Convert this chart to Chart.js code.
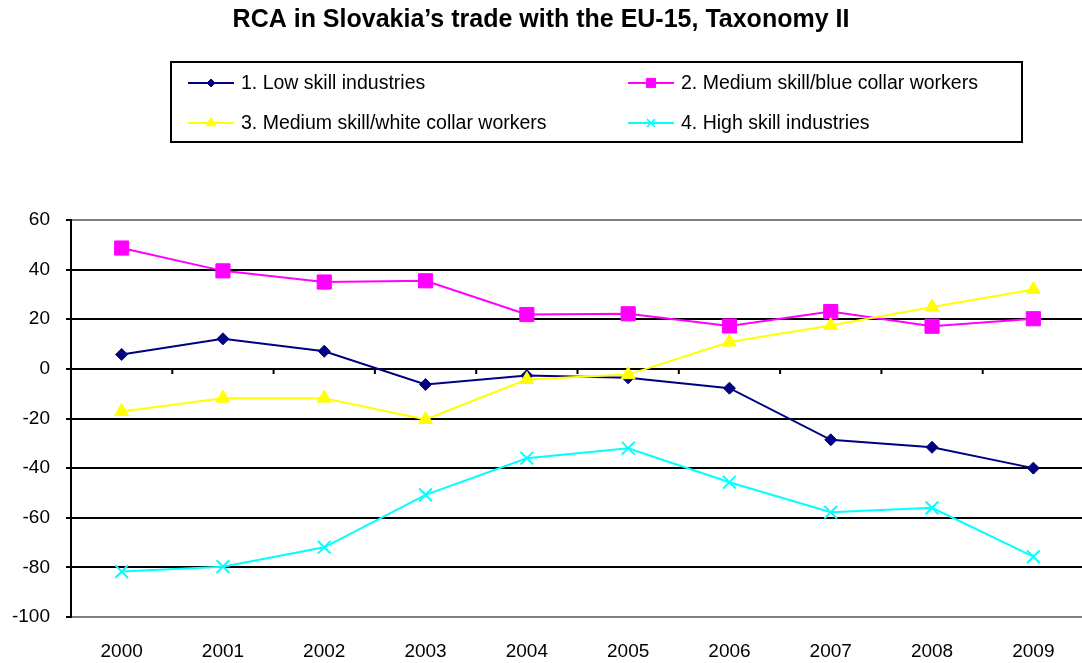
<!DOCTYPE html>
<html>
<head>
<meta charset="utf-8">
<script src="https://cdn.jsdelivr.net/npm/chart.js@4.4.1/dist/chart.umd.min.js"></script>
<style>
  html, body { margin: 0; padding: 0; background: #ffffff; overflow: hidden; }
  .chart-container { position: relative; width: 1082px; height: 663px; }
</style>
</head>
<body>
<div class="chart-container">
  <canvas id="rca-chart"></canvas>
</div>
<script>
// Years on the category axis
const years = ['2000', '2001', '2002', '2003', '2004', '2005', '2006', '2007', '2008', '2009'];

// RCA values
const lowSkill = [5.8, 12.1, 7.1, -6.3, -2.7, -3.6, -7.8, -28.6, -31.6, -40.0];
const mediumBlueCollar = [48.7, 39.5, 35.0, 35.5, 21.9, 22.2, 17.3, 23.1, 17.2, 20.2];
const mediumWhiteCollar = [-17.2, -11.8, -11.8, -20.4, -4.3, -2.3, 10.8, 17.5, 24.9, 32.0];
const highSkill = [-81.7, -79.7, -71.9, -50.8, -36.0, -32.0, -45.7, -57.8, -56.0, -75.7];

const seriesNames = [
  '1. Low skill industries',
  '2. Medium skill/blue collar workers',
  '3. Medium skill/white collar workers',
  '4. High skill industries'
];

const FONT = '"Liberation Sans", Arial, sans-serif';

function series(label, data, color, style, radius, order) {
  return {
    label: label,
    data: data,
    borderColor: color,
    backgroundColor: color,
    borderWidth: 2,
    tension: 0,
    pointStyle: style,
    pointRadius: radius,
    pointHoverRadius: radius,
    pointBorderWidth: style === 'crossRot' ? 2 : 1,
    pointBackgroundColor: color,
    pointBorderColor: color,
    order: order
  };
}

// The plot area runs slightly past the right edge of the page, as in the original
const stretchPlotArea = {
  id: 'stretchPlotArea',
  afterLayout(chart) {
    const xScale = chart.scales.x;
    chart.chartArea.right = chart.width + 2;
    chart.chartArea.width = chart.chartArea.right - chart.chartArea.left;
    xScale.right = chart.chartArea.right;
    xScale.width = xScale.right - xScale.left;
    xScale.configure();
  }
};

// Boxed legend in two columns, drawn above the plot area
const boxedLegend = {
  id: 'boxedLegend',
  afterDraw(chart) {
    const ctx = chart.ctx;
    ctx.save();
    ctx.strokeStyle = '#000000';
    ctx.lineWidth = 2;
    ctx.strokeRect(171, 62, 851, 80);

    const legendRadius = { rectRot: 4, rect: 6.5, triangle: 5.5, crossRot: 5.5 };
    chart.data.datasets.forEach((ds, i) => {
      const col = i % 2;
      const row = Math.floor(i / 2);
      const x0 = col ? 628 : 188;
      const y = row ? 123 : 83;

      ctx.strokeStyle = ds.borderColor;
      ctx.lineWidth = 2;
      ctx.beginPath();
      ctx.moveTo(x0, y);
      ctx.lineTo(x0 + 46, y);
      ctx.stroke();

      ctx.fillStyle = ds.backgroundColor;
      ctx.strokeStyle = ds.borderColor;
      ctx.lineWidth = ds.pointStyle === 'crossRot' ? 1.5 : 1;
      Chart.helpers.drawPoint(ctx, {
        pointStyle: ds.pointStyle,
        rotation: 0,
        radius: legendRadius[ds.pointStyle],
        borderWidth: ctx.lineWidth
      }, x0 + 23, y);

      ctx.fillStyle = '#000000';
      ctx.font = '19.5px ' + FONT;
      ctx.textBaseline = 'middle';
      ctx.textAlign = 'left';
      ctx.fillText(ds.label, x0 + 53, y + 1);
    });
    ctx.restore();
  }
};

// Category tick marks hanging below the zero line
const zeroLineTicks = {
  id: 'zeroLineTicks',
  beforeDatasetsDraw(chart) {
    const xScale = chart.scales.x;
    const yScale = chart.scales.y;
    const y0 = yScale.getPixelForValue(0);
    const ctx = chart.ctx;
    ctx.save();
    ctx.strokeStyle = '#000000';
    ctx.lineWidth = 2;
    ctx.beginPath();
    for (let i = 1; i < years.length; i++) {
      const x = (xScale.getPixelForValue(i - 1) + xScale.getPixelForValue(i)) / 2;
      ctx.moveTo(x, y0);
      ctx.lineTo(x, y0 + 5);
    }
    ctx.stroke();
    ctx.restore();
  }
};

const ctx = document.getElementById('rca-chart').getContext('2d');

new Chart(ctx, {
  type: 'line',
  data: {
    labels: years,
    datasets: [
      series(seriesNames[0], lowSkill, '#000080', 'rectRot', 6, 3),
      series(seriesNames[1], mediumBlueCollar, '#ff00ff', 'rect', 10, 2),
      series(seriesNames[2], mediumWhiteCollar, '#ffff00', 'triangle', 8, 1),
      series(seriesNames[3], highSkill, '#00ffff', 'crossRot', 9, 0)
    ]
  },
  options: {
    responsive: true,
    maintainAspectRatio: false,
    animation: false,
    layout: {
      padding: 0
    },
    plugins: {
      legend: { display: false },
      tooltip: { enabled: false },
      title: {
        display: true,
        text: 'RCA in Slovakia\u2019s trade with the EU-15, Taxonomy II',
        color: '#000000',
        font: { family: FONT, size: 25, weight: 'bold' },
        padding: { top: 5.5, bottom: 184.5 }
      }
    },
    scales: {
      x: {
        type: 'category',
        offset: true,
        grid: { display: false, drawTicks: false },
        border: { display: false },
        ticks: {
          color: '#000000',
          padding: 23,
          maxRotation: 0,
          font: { family: FONT, size: 19 }
        },
        afterFit: (scale) => { scale.height = 46; }
      },
      y: {
        min: -100,
        max: 60,
        ticks: {
          stepSize: 20,
          color: '#000000',
          padding: 16,
          font: { family: FONT, size: 19 }
        },
        grid: {
          color: (c) => (c.tick && (c.tick.value === 60 || c.tick.value === -100)) ? '#808080' : '#000000',
          lineWidth: 2,
          tickLength: 5,
          tickColor: '#000000'
        },
        border: { color: '#000000', width: 2 },
        afterFit: (scale) => { scale.width = 71; }
      }
    }
  },
  plugins: [stretchPlotArea, zeroLineTicks, boxedLegend]
});
</script>
</body>
</html>
